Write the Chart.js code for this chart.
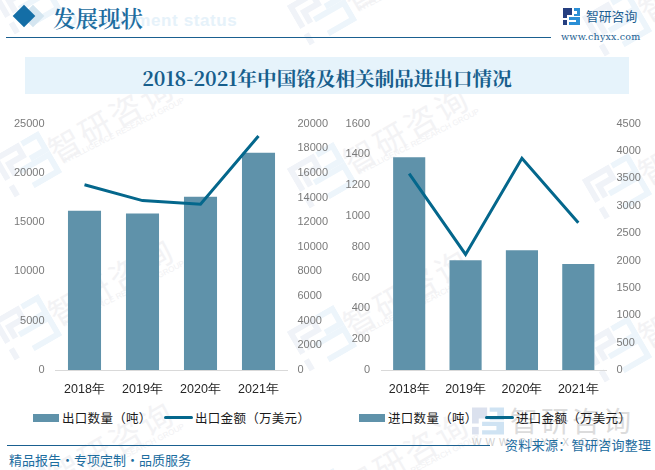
<!DOCTYPE html>
<html>
<head>
<meta charset="utf-8">
<script src="https://cdn.jsdelivr.net/npm/chart.js@4"></script>
<style>
html, body { margin: 0; padding: 0; background: #fff; }
#page { position: relative; width: 655px; height: 470px; overflow: hidden; font-family: "Noto Sans CJK SC", sans-serif; }
#page > * { position: absolute; }
.wm-text { color: #f3f3f5; font-size: 32px; letter-spacing: 3px; white-space: nowrap; transform: rotate(-30deg); transform-origin: 0 50%; line-height: 32px; }
.wm-sub { color: #f1f1f3; font-size: 8px; line-height: 8px; white-space: nowrap; transform: rotate(-27deg); transform-origin: 0 50%; font-family: "Liberation Sans"; }
.wm-logo { transform: rotate(-30deg); }
.legend-swatch { position: absolute; }
.legend-text { position: absolute; font-size: 12.5px; line-height: 16px; letter-spacing: .3px; color: #1a1a1a; white-space: nowrap; }
canvas { display: block; }
</style>
</head>
<body>
<div id="page">
  <div id="wm"></div>

  <div style="left:65px;top:11px;font:bold 17px 'Liberation Sans';color:#e6f2fa;letter-spacing:.6px;white-space:nowrap;">Development status</div>
  <div style="left:25px;top:8px;width:16px;height:16px;background:#d4e5f0;transform:rotate(45deg);"></div>
  <div style="left:16px;top:8px;width:16px;height:16px;background:#146ea6;transform:rotate(45deg);"></div>
  <div style="left:53px;top:1px;font:600 22.5px 'Noto Serif CJK SC','Noto Sans CJK SC';color:#1d6d9f;white-space:nowrap;">发展现状</div>
  <div style="left:6px;top:37px;width:545px;height:1px;background:#1a6090;"></div>

  <svg style="left:563px;top:8px;" width="17" height="17" viewBox="0 0 17 17">
    <path d="M0 0h9v7H4v3H0z" fill="#253f80"/><path d="M11 0h6v8h-6v-2h3V3h-3z" fill="#2a8fd6"/>
    <path d="M0 12h4v5H0z" fill="#253f80"/><path d="M6 9h11v8H6v-3h7v-2H6z" fill="#2a8fd6"/>
  </svg>
  <div style="left:586px;top:6px;font:400 12.8px/20px 'Noto Sans CJK SC';color:#1d5f92;white-space:nowrap;">智研咨询</div>
  <div style="left:561px;top:31px;font:400 9.5px 'DejaVu Serif';color:#1d5f92;letter-spacing:.2px;white-space:nowrap;">www.chyxx.com</div>

  <div style="left:25px;top:57px;width:604px;height:37px;background:#e6f3fb;"></div>
  <div style="left:25px;top:57px;width:604px;height:37px;text-align:center;font:bold 19.6px/41px 'Noto Serif CJK SC','Noto Sans CJK SC';color:#175e8c;white-space:nowrap;">2018-2021年中国铬及相关制品进出口情况</div>

  <svg style="left:472px;top:407px;" width="32" height="28" viewBox="0 0 38 32">
    <path d="M0 0h18v13H8v6H0z" fill="#dbe1ee"/><path d="M21 0h17v15H21v-4h9V5h-9z" fill="#cfe3f3"/>
    <path d="M0 23h8v9H0z" fill="#dbe1ee"/><path d="M12 17h26v15H12v-5h17v-5H12z" fill="#cfe3f3"/>
  </svg>
  <div style="left:510px;top:400px;font:400 28px 'Noto Sans CJK SC';color:#dcdcdc;letter-spacing:3px;white-space:nowrap;">智研咨询</div>
  <div style="left:472px;top:437px;font:400 10px 'Liberation Sans';color:#d0d0d0;letter-spacing:4px;white-space:nowrap;">WWW.CHYXX.COM</div>

  <div style="left:7px;top:445px;width:483px;height:1px;background:#1a6090;"></div>
  <div style="left:505px;top:435px;font:400 13px 'Noto Sans CJK SC';color:#1d6d9f;white-space:nowrap;letter-spacing:.3px;">资料来源：智研咨询整理</div>
  <div style="left:9px;top:450px;font:400 13px 'Noto Sans CJK SC';color:#1d6d9f;white-space:nowrap;">精品报告·专项定制·品质服务</div>

  <div style="left:0;top:106px;width:343px;height:297px;"><canvas id="exportChart"></canvas></div>
  <div style="left:340px;top:106px;width:309px;height:297px;"><canvas id="importChart"></canvas></div>
  <div id="legends" style="left:0;top:0;"></div>
</div>

<script>
const years = ['2018年', '2019年', '2020年', '2021年'];
const exportQty = [16170, 15870, 17590, 22040];
const exportAmt = [15040, 13750, 13450, 19000];
const importQty = [1382, 713, 778, 688];
const importAmt = [3588, 2110, 3868, 2688];

const barColor = '#5f92aa';
const lineColor = '#04678c';
const tickFont = { family: "'Liberation Sans'", size: 11 };

// pale repeated company mark behind everything
function addWatermarks() {
    const wm = document.getElementById('wm');
    const logo = '<g fill="none" stroke-width="6">' +
        '<path d="M3 27V3H28V14H12V27" stroke="#f0f3f8"/>' +
        '<path d="M33 3H51V20H33" stroke="#edf5fb"/>' +
        '<path d="M3 34V46" stroke="#f0f3f8"/>' +
        '<path d="M17 26H51V45H22" stroke="#edf5fb"/></g>';
    for (let i = -1; i < 3; i++) {
        for (let j = -1; j < 3; j++) {
            const x = 27 + i * 295;
            const y = 165 + i * 11 + j * 163;
            const mark = document.createElement('div');
            mark.className = 'wm-logo';
            mark.style.cssText = `position:absolute;left:${x - 27}px;top:${y - 24}px;`;
            mark.innerHTML = `<svg width="54" height="48" viewBox="0 0 54 48" style="display:block">${logo}</svg>`;
            wm.appendChild(mark);
            const txt = document.createElement('div');
            txt.className = 'wm-text';
            txt.textContent = '智研咨询';
            txt.style.cssText = `position:absolute;left:${x + 23}px;top:${y - 29}px;`;
            wm.appendChild(txt);
            const sub = document.createElement('div');
            sub.className = 'wm-sub';
            sub.textContent = 'INTELLIGENCE RESEARCH GROUP';
            sub.style.cssText = `position:absolute;left:${x + 36}px;top:${y - 7}px;`;
            wm.appendChild(sub);
        }
    }
}
addWatermarks();

/**
 * Create a bar + line chart with two value axes
 */
function createComboChart(canvasId, config) {
    const ctx = document.getElementById(canvasId);
    return new Chart(ctx.getContext('2d'), {
        type: 'bar',
        data: {
            labels: years,
            datasets: [
                {
                    label: config.barLabel,
                    data: config.barData,
                    backgroundColor: barColor,
                    barPercentage: 0.57,
                    categoryPercentage: 1,
                    yAxisID: 'y',
                    order: 2
                },
                {
                    type: 'line',
                    label: config.lineLabel,
                    data: config.lineData,
                    borderColor: lineColor,
                    backgroundColor: lineColor,
                    borderWidth: 3,
                    tension: 0,
                    pointRadius: 0,
                    yAxisID: 'y1',
                    order: 1
                }
            ]
        },
        options: {
            responsive: true,
            maintainAspectRatio: false,
            animation: false,
            layout: { padding: { top: 3, bottom: 0 } },
            plugins: {
                tooltip: { enabled: false },
                legend: { display: false }
            },
            scales: {
                x: {
                    grid: { display: false },
                    border: { color: '#d9d9d9', width: 1 },
                    ticks: { color: '#262626', font: { family: "'Liberation Sans'", size: 12.5 }, padding: 4, maxRotation: 0 },
                    afterFit: (scale) => { scale.height = 33; }
                },
                y: {
                    position: 'left',
                    min: 0,
                    max: config.barMax,
                    grid: { display: false, drawTicks: false },
                    border: { display: false },
                    ticks: { stepSize: config.barStep, color: '#7a7a7a', font: tickFont, padding: 11, callback: (v) => String(v) },
                    afterFit: (scale) => { scale.width = config.leftWidth; }
                },
                y1: {
                    position: 'right',
                    min: 0,
                    max: config.lineMax,
                    grid: { display: false, drawTicks: false },
                    border: { display: false },
                    ticks: { stepSize: config.lineStep, color: '#7a7a7a', font: tickFont, padding: 10, callback: (v) => String(v) },
                    afterFit: (scale) => { scale.width = config.rightWidth; }
                }
            }
        }
    });
}

// legend swatches sit close to the text, so it is laid out by hand from the dataset labels
function addLegend(chart, barX, lineX) {
    const box = document.getElementById('legends');
    const [barSet, lineSet] = chart.data.datasets;
    box.insertAdjacentHTML('beforeend',
        `<div class="legend-swatch" style="left:${barX}px;top:414px;width:26px;height:8px;background:${barSet.backgroundColor}"></div>` +
        `<div class="legend-text" style="left:${barX + 29}px;top:410px">${barSet.label}</div>` +
        `<div class="legend-swatch" style="left:${lineX}px;top:416px;width:29px;height:3px;border-radius:1.5px;background:${lineSet.borderColor}"></div>` +
        `<div class="legend-text" style="left:${lineX + 31}px;top:410px">${lineSet.label}</div>`);
}

const exportChart = createComboChart('exportChart', {
    barLabel: '出口数量（吨）',
    lineLabel: '出口金额（万美元）',
    barData: exportQty,
    lineData: exportAmt,
    barMax: 25000,
    barStep: 5000,
    lineMax: 20000,
    lineStep: 2000,
    leftWidth: 55.5,
    rightWidth: 55.5
});

const importChart = createComboChart('importChart', {
    barLabel: '进口数量（吨）',
    lineLabel: '进口金额（万美元）',
    barData: importQty,
    lineData: importAmt,
    barMax: 1600,
    barStep: 200,
    lineMax: 4500,
    lineStep: 500,
    leftWidth: 41,
    rightWidth: 42.5
});

addLegend(exportChart, 33, 164);
addLegend(importChart, 359, 485);
</script>
</body>
</html>
